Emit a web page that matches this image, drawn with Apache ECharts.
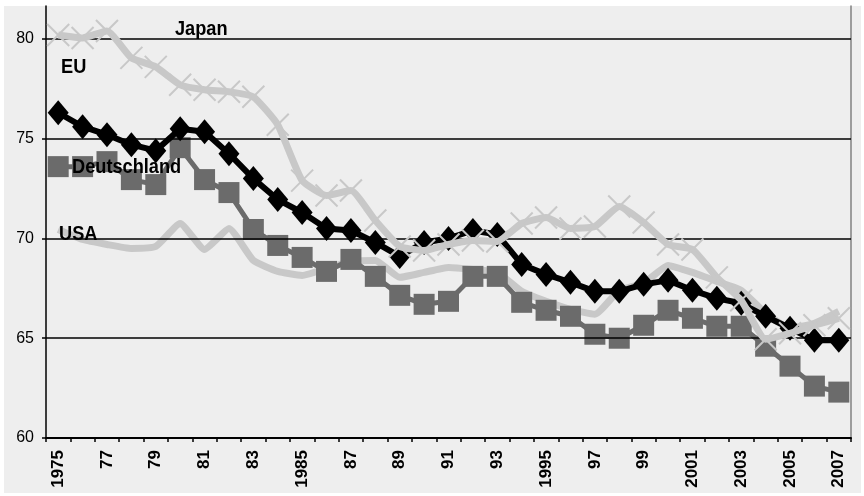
<!DOCTYPE html>
<html>
<head>
<meta charset="utf-8">
<script src="https://cdn.jsdelivr.net/npm/echarts@6/dist/echarts.min.js"></script>
<style>
  html, body { margin: 0; padding: 0; background: #ffffff; }
  #chart { width: 864px; height: 496px; }
</style>
</head>
<body>
<div id="chart"></div>
<script>
// Years on the category axis
const years = [];
for (let y = 1975; y <= 2007; y++) years.push(String(y));

// Labels shown under every second year
const tickLabels = ['1975', '77', '79', '81', '83', '1985', '87', '89', '91', '93',
  '1995', '97', '99', '2001', '2003', '2005', '2007'];

// Value-axis ticks and grid lines
const yTicks = [60, 65, 70, 75, 80];
const gridValues = [65, 70, 75, 80];

// Series values, 1975 – 2007
const japan = [80.2, 80.05, 80.4, 79.05, 78.6, 77.7, 77.45, 77.35, 77.1, 75.7,
  72.9, 72.15, 72.4, 70.9, 69.6, 69.4, 69.7, 69.9, 69.85, 70.75,
  71.05, 70.5, 70.6, 71.6, 70.8, 69.7, 69.45, 68.05, 66.9, 64.95,
  65.25, 65.65, 66.0];

const eu = [76.3, 75.6, 75.2, 74.7, 74.4, 75.5, 75.35, 74.25, 73.0, 71.95,
  71.3, 70.5, 70.4, 69.8, 69.1, 69.8, 70.0, 70.4, 70.2, 68.7,
  68.2, 67.8, 67.35, 67.35, 67.7, 67.9, 67.4, 67.0, 66.75, 66.1,
  65.5, 64.9, 64.9];

const deutschland = [73.6, 73.6, 73.85, 72.95, 72.7, 74.55, 72.95, 72.3, 70.45, 69.65,
  69.05, 68.35, 68.95, 68.1, 67.15, 66.7, 66.85, 68.1, 68.1, 66.8,
  66.4, 66.1, 65.2, 65.0, 65.65, 66.4, 66.0, 65.6, 65.6, 64.6,
  63.6, 62.6, 62.3];

const usa = [70.45, 69.95, 69.7, 69.5, 69.6, 70.75, 69.45, 70.5, 68.9, 68.35,
  68.15, 68.5, 68.85, 68.9, 68.05, 68.3, 68.55, 68.45, 68.3, 67.35,
  66.85, 66.45, 66.2, 67.4, 67.75, 68.65, 68.3, 67.85, 67.4, 66.25,
  65.5, 65.75, 66.35];

const LIGHT = '#c8c8c8';
const MID = '#6b6b6b';
const SANS = '"Liberation Sans", Arial, sans-serif';

const chart = echarts.init(document.getElementById('chart'), null, { renderer: 'canvas' });

// Series names written inside the plot, in a condensed bold face
function nameText(text, x, y) {
  return {
    type: 'text',
    x: x,
    y: y,
    scaleX: 0.91,
    z: 50,
    style: {
      text: text,
      fill: '#000',
      font: 'bold 20px ' + SANS,
      textVerticalAlign: 'middle'
    }
  };
}

const option = {
  backgroundColor: '#ffffff',
  animation: false,
  grid: { left: 46, right: 13, top: 6, bottom: 58, containLabel: false },
  graphic: [
    {
      type: 'rect',
      z: -100,
      shape: { x: 4, y: 6, width: 857, height: 487 },
      style: { fill: '#eeeeee' },
      silent: true
    },
    nameText('Japan', 175, 29),
    nameText('EU', 61, 67),
    nameText('Deutschland', 72, 167),
    nameText('USA', 59, 234)
  ],
  xAxis: {
    type: 'category',
    data: years,
    boundaryGap: true,
    axisLine: { show: true, lineStyle: { color: '#000', width: 2 } },
    axisTick: { show: true, interval: 0, length: 4, lineStyle: { color: '#000', width: 1.5 } },
    axisLabel: {
      interval: 1,
      rotate: 90,
      margin: 12,
      color: '#000',
      fontFamily: SANS,
      fontWeight: 'bold',
      fontSize: 17,
      formatter: function (value, idx) { return tickLabels[idx / 2]; }
    },
    splitLine: { show: false }
  },
  yAxis: [
    {
      type: 'value',
      min: 60,
      max: 81.65,
      interval: 5,
      axisLine: { show: true, lineStyle: { color: '#000', width: 1.5 } },
      axisTick: { show: true, length: 4, customValues: yTicks, lineStyle: { color: '#000', width: 1.5 } },
      axisLabel: {
        customValues: yTicks,
        margin: 12,
        color: '#000',
        fontFamily: SANS,
        fontSize: 16
      },
      splitLine: { show: false }
    },
    {
      type: 'value',
      position: 'right',
      min: 60,
      max: 81.65,
      interval: 5,
      axisLine: { show: true, lineStyle: { color: '#808080', width: 1.5 } },
      axisTick: { show: false },
      axisLabel: { show: false },
      splitLine: { show: false }
    }
  ],
  series: [
    {
      name: 'USA',
      type: 'line',
      data: usa,
      smooth: 0.15,
      symbol: 'none',
      lineStyle: { color: LIGHT, width: 7 },
      itemStyle: { color: LIGHT },
      markLine: {
        silent: true,
        symbol: 'none',
        label: { show: false },
        lineStyle: { color: '#000', width: 1.5, type: 'solid' },
        data: gridValues.map(v => ({ yAxis: v }))
      },
      z: 2
    },
    {
      name: 'Deutschland',
      type: 'line',
      data: deutschland,
      symbol: 'rect',
      symbolSize: 21,
      showAllSymbol: true,
      lineStyle: { color: MID, width: 5 },
      itemStyle: { color: MID },
      z: 3
    },
    {
      name: 'EU',
      type: 'line',
      data: eu,
      symbol: 'diamond',
      symbolSize: [21, 25],
      showAllSymbol: true,
      lineStyle: { color: '#000', width: 6 },
      itemStyle: { color: '#000' },
      z: 4
    },
    {
      name: 'Japan',
      type: 'line',
      data: japan,
      smooth: 0.15,
      symbol: 'path://M0,0L10,10M10,0L0,10',
      symbolSize: 22,
      showAllSymbol: true,
      lineStyle: { color: LIGHT, width: 7 },
      itemStyle: { color: 'rgba(0,0,0,0)', borderColor: LIGHT, borderWidth: 2 },
      z: 5
    }
  ]
};

chart.setOption(option);
</script>
</body>
</html>
